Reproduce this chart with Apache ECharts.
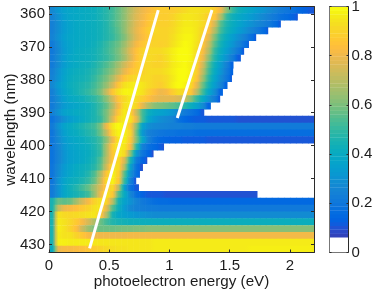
<!DOCTYPE html>
<html><head><meta charset="utf-8">
<style>html,body{margin:0;padding:0;background:#fff}#c{width:374px;height:292px}</style>
<script src="https://cdn.jsdelivr.net/npm/echarts@6/dist/echarts.min.js"></script>
</head><body><div id="c"></div>
<script>
// tick labels
const xTicks=[0,0.5,1,1.5,2];
const yTicks=[360,370,380,390,400,410,420,430];
const cTicks=[0,0.2,0.4,0.6,0.8,1];
// grid of measurement bins
const energyStep=0.05, energyMax=2.2;
const nmTop=357.72, nmStep=2.076, nmBottom=432.46;
// energy (eV) at which each wavelength row's signal ends (null: runs to the axis edge)
const rowEnd=[null,2.066,1.925,1.82,1.72,1.66,1.62,1.593,1.532,1.529,1.519,1.482,1.444,1.421,1.344,1.289,
 null,null,null,null,0.951,0.868,0.816,0.78,0.752,0.724,0.747,1.731,null,null,null,null,null,null,null,null];
// normalised intensity in percent, one list per wavelength row, one entry per 0.05 eV bin
const row00=[27,32,36,38,39,40,41,42,45,48,52,57,63,70,76,80,83,86,88,88,88,90,92,94,94,93,92,88,80,62,50,43,40,37,34,31,28,25,22,20,18,15,13,11];
const row01=[25,30,35,38,39,40,41,42,45,48,52,57,63,71,77,81,85,88,88,88,90,93,95,95,94,92,88,85,68,50,43,39,36,33,30,27,24,21,18,16,13,11];
const row02=[24,29,34,37,39,40,41,42,44,47,52,57,63,71,78,82,86,89,89,89,91,94,96,96,95,92,88,74,55,46,41,37,33,30,27,24,21,17,12];
const row03=[24,29,34,37,39,40,41,42,44,47,51,56,63,72,79,84,88,91,90,90,92,95,97,97,95,90,84,68,52,44,39,34,30,26,22,17,12];
const row04=[25,30,35,38,39,40,41,42,44,47,50,55,61,70,78,83,87,90,90,90,93,96,98,98,95,88,78,60,47,40,34,29,24,18,12];
const row05=[22,28,34,37,39,40,41,43,46,50,54,58,65,74,82,86,89,90,89,90,94,97,99,98,94,86,72,55,44,37,31,25,18,12];
const row06=[21,27,33,37,40,41,42,44,47,51,55,60,68,78,85,90,92,92,92,94,97,99,100,98,93,83,68,50,41,34,27,20,12];
const row07=[22,28,34,38,40,41,42,44,47,50,54,59,66,76,85,90,92,91,90,93,97,99,100,98,92,80,62,47,38,30,22,12];
const row08=[22,28,34,38,40,42,43,46,50,54,59,66,74,81,87,90,91,90,90,92,96,98,99,97,90,74,55,42,33,24,14];
const row09=[24,30,36,40,42,43,45,48,52,57,62,70,79,85,88,90,92,92,92,94,97,99,100,97,88,70,52,40,31,22,14];
const row10=[25,31,37,41,43,44,46,50,55,60,68,78,86,90,92,92,92,90,90,92,96,99,100,96,85,65,48,37,28,20,12];
const row11=[27,33,38,42,44,46,48,52,57,64,74,86,94,96,97,95,92,90,88,92,97,100,98,92,78,58,44,34,25,14];
const row12=[24,31,37,41,44,47,50,54,60,72,86,94,98,98,97,94,88,84,80,82,88,93,90,86,70,52,38,28,14];
const row13=[23,29,35,39,41,43,46,49,54,62,74,86,92,96,92,88,84,80,78,78,78,76,72,62,50,40,30,22,12];
const row14=[22,28,33,36,38,40,42,46,51,57,68,82,94,96,90,78,68,62,60,58,56,53,48,42,36,28,14];
const row15=[24,30,36,38,40,41,43,46,52,60,72,86,96,90,72,52,42,38,36,34,31,27,22,19,16,11];
const row16=[19,24,30,34,37,40,43,46,50,60,76,92,96,94,78,52,38,32,29,27,25,18,15,13,12,12,11,11,11,11,11,10,10,10,10,10,10,10,10,10,10,10,10,10];
const row17=[22,30,37,40,43,46,49,52,60,80,95,100,96,86,62,36,29,27,26,25,24,24,23,23,22,22,22,22,22,22,22,22,22,22,22,22,22,22,22,22,22,22,22,22];
const row18=[20,28,35,39,41,44,47,50,58,72,92,98,97,90,58,32,24,22,20,19,19,18,18,18,17,17,17,17,17,17,17,17,17,17,17,17,17,17,17,17,17,17,17,17];
const row19=[20,27,33,37,39,41,44,47,52,63,80,95,97,86,60,38,24,18,15,14,13,13,12,12,12,12,11,11,11,11,11,11,11,11,11,11,11,11,11,11,11,11,11,11];
const row20=[20,26,32,36,38,40,42,46,51,68,88,97,95,82,48,24,18,15,12,9];
const row21=[19,25,31,35,37,39,41,45,50,68,86,97,92,62,32,20,14,10];
const row22=[19,25,31,35,37,39,42,46,54,70,86,92,75,45,22,14,10];
const row23=[20,27,33,37,40,42,44,48,56,74,94,92,68,36,18,10];
const row24=[20,28,34,38,41,43,47,54,68,86,98,88,55,30,17,10];
const row25=[20,30,37,41,43,46,50,57,72,92,98,86,50,24,11];
const row26=[22,30,38,43,47,52,57,66,77,88,92,70,35,18,11];
const row27=[22,30,38,42,45,48,52,64,80,95,86,55,40,26,17,13,11,11,11,10,10,10,10,10,10,10,10,10,10,10,10,10,10,10,10];
const row28=[45,58,56,58,66,75,82,90,94,90,70,45,36,30,25,21,19,17,16,16,15,15,15,15,15,15,15,15,15,15,15,15,15,15,15,15,15,15,15,15,15,15,15,15];
const row29=[45,72,80,82,84,87,90,94,95,78,55,42,33,27,24,23,22,22,21,21,21,21,21,21,21,21,21,21,21,21,21,21,21,21,21,21,21,21,21,21,21,21,21,21];
const row30=[45,94,92,91,92,93,94,95,88,68,45,38,35,33,31,30,29,28,28,28,28,28,28,28,28,28,28,28,28,28,28,28,28,28,28,28,28,28,28,28,28,28,28,28];
const row31=[45,96,94,91,87,82,75,68,58,52,47,45,44,43,43,42,42,42,42,42,42,42,42,42,42,42,42,42,42,42,42,42,42,42,42,42,42,42,42,42,42,42,42,42];
const row32=[45,97,94,90,84,73,65,60,58,58,58,59,60,60,61,61,62,62,62,62,62,62,62,62,62,62,62,62,62,62,62,62,62,62,62,62,62,62,62,62,62,62,62,62];
const row33=[45,96,94,94,90,86,82,80,80,80,80,80,80,81,81,81,81,81,81,81,81,81,81,81,81,81,81,81,81,81,81,81,81,81,81,81,81,81,81,81,81,81,81,81];
const row34=[45,97,97,96,96,96,96,95,95,95,95,95,95,95,95,95,95,96,96,96,96,96,96,96,96,96,96,96,96,96,96,96,96,96,96,96,96,96,96,96,96,96,96,96];
const row35=[40,80,82,82,83,84,86,88,90,92,93,94,94,95,95,95,95,96,96,96,96,96,96,96,96,96,96,96,96,96,96,96,96,97,97,97,97,97,97,97,97,97,97,97];
const rows=[row00,row01,row02,row03,row04,row05,row06,row07,row08,row09,row10,row11,row12,row13,row14,row15,row16,row17,row18,row19,row20,row21,row22,row23,row24,row25,row26,row27,row28,row29,row30,row31,row32,row33,row34,row35];
// white guide lines [energy eV, wavelength nm]
const guideA=[[0.907,358.8],[0.337,431.2]];
const guideB=[[1.353,358.8],[1.065,391.6]];
// colour map (values below the first blue are white)
const parula=[[0.2081,0.1663,0.5292],[0.2116,0.1898,0.5777],[0.2123,0.2138,0.6270],[0.2081,0.2386,0.6771],[0.1959,0.2645,0.7279],[0.1707,0.2919,0.7792],[0.1253,0.3242,0.8303],[0.0591,0.3598,0.8683],[0.0117,0.3875,0.8820],[0.0060,0.4086,0.8828],[0.0165,0.4266,0.8786],[0.0329,0.4430,0.8720],[0.0498,0.4586,0.8641],[0.0629,0.4737,0.8554],[0.0723,0.4887,0.8467],[0.0779,0.5040,0.8384],[0.0793,0.5200,0.8312],[0.0749,0.5375,0.8263],[0.0641,0.5570,0.8240],[0.0488,0.5772,0.8228],[0.0343,0.5966,0.8199],[0.0265,0.6137,0.8135],[0.0239,0.6287,0.8038],[0.0231,0.6418,0.7913],[0.0228,0.6535,0.7768],[0.0267,0.6642,0.7607],[0.0384,0.6743,0.7436],[0.0590,0.6838,0.7254],[0.0843,0.6928,0.7062],[0.1133,0.7015,0.6859],[0.1453,0.7098,0.6646],[0.1801,0.7177,0.6424],[0.2178,0.7250,0.6193],[0.2586,0.7317,0.5954],[0.3022,0.7376,0.5712],[0.3482,0.7424,0.5473],[0.3953,0.7459,0.5244],[0.4420,0.7481,0.5033],[0.4871,0.7491,0.4840],[0.5300,0.7491,0.4661],[0.5709,0.7485,0.4494],[0.6099,0.7473,0.4337],[0.6473,0.7456,0.4188],[0.6834,0.7435,0.4044],[0.7184,0.7411,0.3905],[0.7525,0.7384,0.3768],[0.7858,0.7356,0.3633],[0.8185,0.7327,0.3498],[0.8507,0.7299,0.3360],[0.8824,0.7274,0.3217],[0.9139,0.7258,0.3063],[0.9450,0.7261,0.2886],[0.9739,0.7314,0.2666],[0.9938,0.7455,0.2403],[0.9990,0.7653,0.2164],[0.9955,0.7861,0.1967],[0.9880,0.8066,0.1794],[0.9789,0.8271,0.1633],[0.9697,0.8481,0.1475],[0.9626,0.8705,0.1309],[0.9589,0.8949,0.1132],[0.9598,0.9218,0.0948],[0.9661,0.9514,0.0755],[0.9763,0.9831,0.0538]];
const rgb=c=>'rgb('+c.map(v=>Math.round(v*255)).join(',')+')';
// colour for a value; the lowest four of the 64 colour levels are white
const shade=v=>{
  const f=Math.max(4,Math.min(63,v*64-0.5)),i=Math.floor(f),j=Math.min(63,i+1),t=f-i;
  return rgb(parula[i].map((a,k)=>a+(parula[j][k]-a)*t));
};
const barLevels=parula.map((c,i)=>[0.5,(i+0.5)/64,i]);

const cells=[];
rows.forEach((r,ri)=>r.forEach((v,ci)=>cells.push([(ci+0.5)*energyStep,nmTop+(ri+0.5)*nmStep,v/100,ri,ci])));

const font='"Liberation Sans",Arial,sans-serif', ink='#1c1c1c', edge='#2b2b2b', soft='#777777';
const tx={color:ink,fontSize:15,fontFamily:font};
const chart=echarts.init(document.getElementById('c'),null,{renderer:'canvas'});
const box=(color)=>({show:true,onZero:false,lineStyle:{color:color,width:1}});
chart.setOption({
 animation:false,backgroundColor:'#fff',
 grid:[{left:49,top:6.5,width:265,height:246,outerBoundsMode:'none'},{left:329.5,top:6.5,width:19,height:246,outerBoundsMode:'none'}],
 xAxis:[
  {type:'value',gridIndex:0,min:0,max:energyMax,position:'bottom',z:10,name:'photoelectron energy (eV)',nameLocation:'middle',nameGap:22,nameMoveOverlap:false,
   nameTextStyle:{...tx,fontSize:15.2},axisLine:box(edge),splitLine:{show:false},
   axisTick:{inside:true,length:3,customValues:xTicks,lineStyle:{color:edge}},
   axisLabel:{customValues:xTicks,margin:6,formatter:v=>String(v),...tx}},
  {type:'value',gridIndex:0,min:0,max:energyMax,position:'top',z:10,axisLine:box(edge),splitLine:{show:false},
   axisTick:{inside:true,length:3,customValues:xTicks,lineStyle:{color:edge}},axisLabel:{show:false}},
  {type:'value',gridIndex:1,min:0,max:1,position:'bottom',z:10,axisLine:box(soft),axisTick:{show:false},axisLabel:{show:false},splitLine:{show:false}},
  {type:'value',gridIndex:1,min:0,max:1,position:'top',z:10,axisLine:box(soft),axisTick:{show:false},axisLabel:{show:false},splitLine:{show:false}}
 ],
 yAxis:[
  {type:'value',gridIndex:0,inverse:true,min:nmTop,max:nmBottom,position:'left',z:10,name:'wavelength (nm)',nameLocation:'middle',nameGap:31,nameMoveOverlap:false,nameRotate:90,
   nameTextStyle:{...tx,fontSize:15.2},axisLine:box(soft),splitLine:{show:false},
   axisTick:{inside:true,length:3,customValues:yTicks,lineStyle:{color:edge}},
   axisLabel:{customValues:yTicks,margin:4,formatter:v=>String(v),...tx}},
  {type:'value',gridIndex:0,inverse:true,min:nmTop,max:nmBottom,position:'right',z:10,axisLine:box(edge),splitLine:{show:false},
   axisTick:{inside:true,length:3,customValues:yTicks,lineStyle:{color:edge}},axisLabel:{show:false}},
  {type:'value',gridIndex:1,min:0,max:1,position:'right',z:10,axisLine:box(edge),splitLine:{show:false},
   axisTick:{inside:true,length:2,customValues:cTicks,lineStyle:{color:edge}},
   axisLabel:{customValues:cTicks,margin:3,formatter:v=>String(v),...tx}},
  {type:'value',gridIndex:1,min:0,max:1,position:'left',z:10,axisLine:box(soft),splitLine:{show:false},
   axisTick:{inside:true,length:2,customValues:cTicks,lineStyle:{color:edge}},axisLabel:{show:false}}
 ],
 series:[
  {type:'custom',xAxisIndex:0,yAxisIndex:0,data:cells,clip:true,silent:true,z:2,progressive:0,
   encode:{x:0,y:1},
   renderItem:(p,api)=>{
     const e=api.value(0),w=api.value(1),ri=api.value(3),ci=api.value(4),end=rowEnd[ri],row=rows[ri];
     const hi=e+energyStep/2, clipped=end!=null&&hi>end, right=clipped?end:hi;
     const a=api.coord([e-energyStep/2,w-nmStep/2]), b=api.coord([right,w+nmStep/2]);
     const v=row[ci], l=ci>0?(row[ci-1]+v)/2:v, r=ci<row.length-1?(row[ci+1]+v)/2:v;
     return {type:'rect',shape:{x:a[0],y:a[1],width:b[0]-a[0]+(clipped?0:0.6),height:b[1]-a[1]+0.4},
       style:{fill:new echarts.graphic.LinearGradient(0,0,1,0,[
         {offset:0,color:shade(l/100)},{offset:0.5,color:shade(v/100)},{offset:1,color:shade(r/100)}])}};
   }},
  {type:'line',xAxisIndex:0,yAxisIndex:0,data:guideA,symbol:'none',z:5,silent:true,lineStyle:{color:'#fff',width:3}},
  {type:'line',xAxisIndex:0,yAxisIndex:0,data:guideB,symbol:'none',z:5,silent:true,lineStyle:{color:'#fff',width:3}},
  {type:'custom',name:'colour bar',xAxisIndex:2,yAxisIndex:2,data:barLevels,clip:true,silent:true,z:2,progressive:0,
   encode:{x:0,y:1},
   renderItem:(p,api)=>{
     const i=api.value(2), a=api.coord([0,(i+1)/64]), b=api.coord([1,i/64]);
     return {type:'rect',shape:{x:a[0],y:a[1],width:b[0]-a[0],height:b[1]-a[1]+0.4},
       style:{fill:i<4?'#ffffff':rgb(parula[i])}};
   }}
 ]
});
</script></body></html>
